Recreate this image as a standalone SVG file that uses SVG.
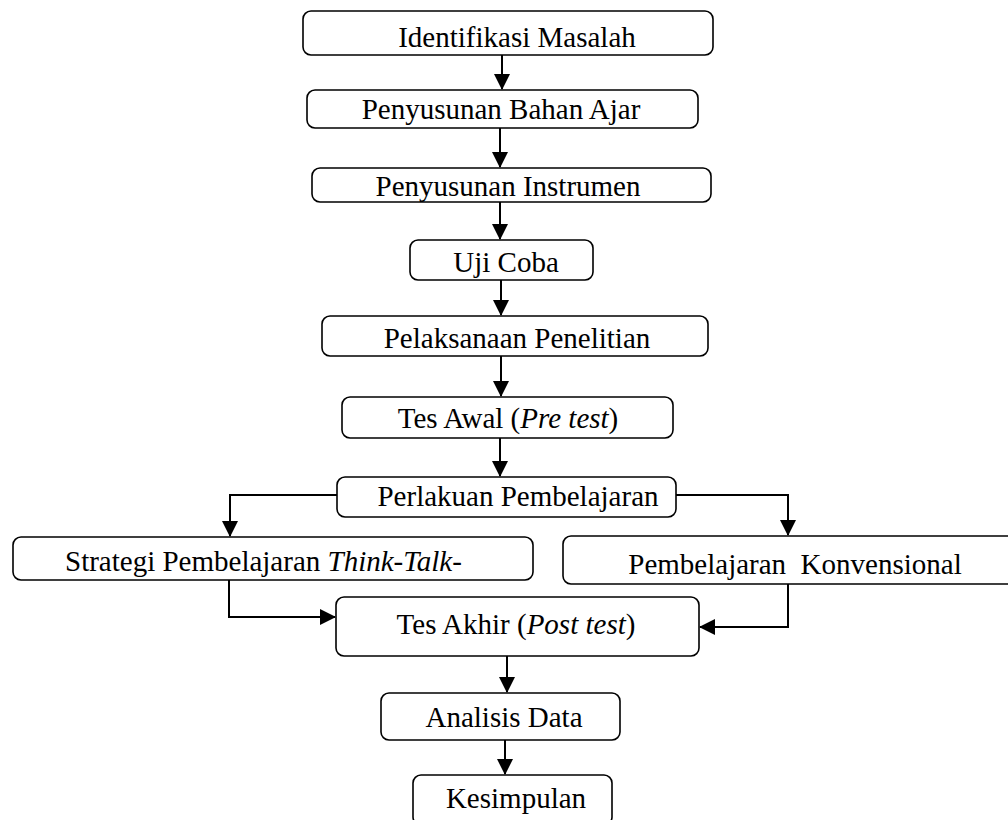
<svg xmlns="http://www.w3.org/2000/svg" width="1008" height="820" viewBox="0 0 1008 820">
<style>
.box{fill:#fff;stroke:#000;stroke-width:1.6}
.t{font-family:"Liberation Serif","Times New Roman",serif;font-size:29px;fill:#000;text-anchor:middle;white-space:pre}
.i{font-style:italic}
.c{fill:none;stroke:#000;stroke-width:2}
</style>
<defs>
<marker id="ah" markerUnits="userSpaceOnUse" markerWidth="16" markerHeight="16" viewBox="0 0 16 16" refX="15" refY="8" orient="auto">
<path d="M0,0 L16,8 L0,16 Z" fill="#000"/>
</marker>
</defs>
<rect width="1008" height="820" fill="#fff"/>
<g id="connectors">
<path class="c" d="M502,55 V89" marker-end="url(#ah)"/>
<path class="c" d="M500,128 V167" marker-end="url(#ah)"/>
<path class="c" d="M500,202 V239" marker-end="url(#ah)"/>
<path class="c" d="M501,280 V315" marker-end="url(#ah)"/>
<path class="c" d="M501,356 V396" marker-end="url(#ah)"/>
<path class="c" d="M500,438 V476" marker-end="url(#ah)"/>
<path class="c" d="M337,495 H230 V536" marker-end="url(#ah)"/>
<path class="c" d="M676,495 H788 V535" marker-end="url(#ah)"/>
<path class="c" d="M229,580 V617 H335" marker-end="url(#ah)"/>
<path class="c" d="M788,584 V627 H700" marker-end="url(#ah)"/>
<path class="c" d="M507,656 V692" marker-end="url(#ah)"/>
<path class="c" d="M505,740 V774" marker-end="url(#ah)"/>
</g>
<g id="n1"><rect class="box" x="303" y="11" width="410" height="44" rx="8"/><text class="t" x="517" y="47">Identifikasi Masalah</text></g>
<g id="n2"><rect class="box" x="307" y="90" width="391" height="38" rx="8"/><text class="t" x="501" y="119">Penyusunan Bahan Ajar</text></g>
<g id="n3"><rect class="box" x="312" y="168" width="399" height="34" rx="8"/><text class="t" x="508" y="196">Penyusunan Instrumen</text></g>
<g id="n4"><rect class="box" x="410" y="240" width="183" height="40" rx="8"/><text class="t" x="506" y="272">Uji Coba</text></g>
<g id="n5"><rect class="box" x="322" y="316" width="386" height="40" rx="8"/><text class="t" x="517" y="348">Pelaksanaan Penelitian</text></g>
<g id="n6"><rect class="box" x="342" y="397" width="331" height="41" rx="8"/><text class="t" x="508" y="428">Tes Awal (<tspan class="i">Pre test</tspan>)</text></g>
<g id="n7"><rect class="box" x="337" y="477" width="339" height="40" rx="8"/><text class="t" x="518" y="506">Perlakuan Pembelajaran</text></g>
<g id="n8"><rect class="box" x="13" y="537" width="520" height="43" rx="8"/><text class="t" x="65" y="571" style="text-anchor:start">Strategi Pembelajaran <tspan class="i">Think-Talk-</tspan></text></g>
<g id="n9"><rect class="box" x="563" y="536" width="452" height="48" rx="8"/><text class="t" x="795" y="574">Pembelajaran  Konvensional</text></g>
<g id="n10"><rect class="box" x="336" y="597" width="363" height="59" rx="8"/><text class="t" x="516" y="634">Tes Akhir (<tspan class="i">Post test</tspan>)</text></g>
<g id="n11"><rect class="box" x="381" y="693" width="239" height="47" rx="8"/><text class="t" x="504" y="727">Analisis Data</text></g>
<g id="n12"><rect class="box" x="413" y="775" width="199" height="50" rx="8"/><text class="t" x="516" y="808">Kesimpulan</text></g>
</svg>
